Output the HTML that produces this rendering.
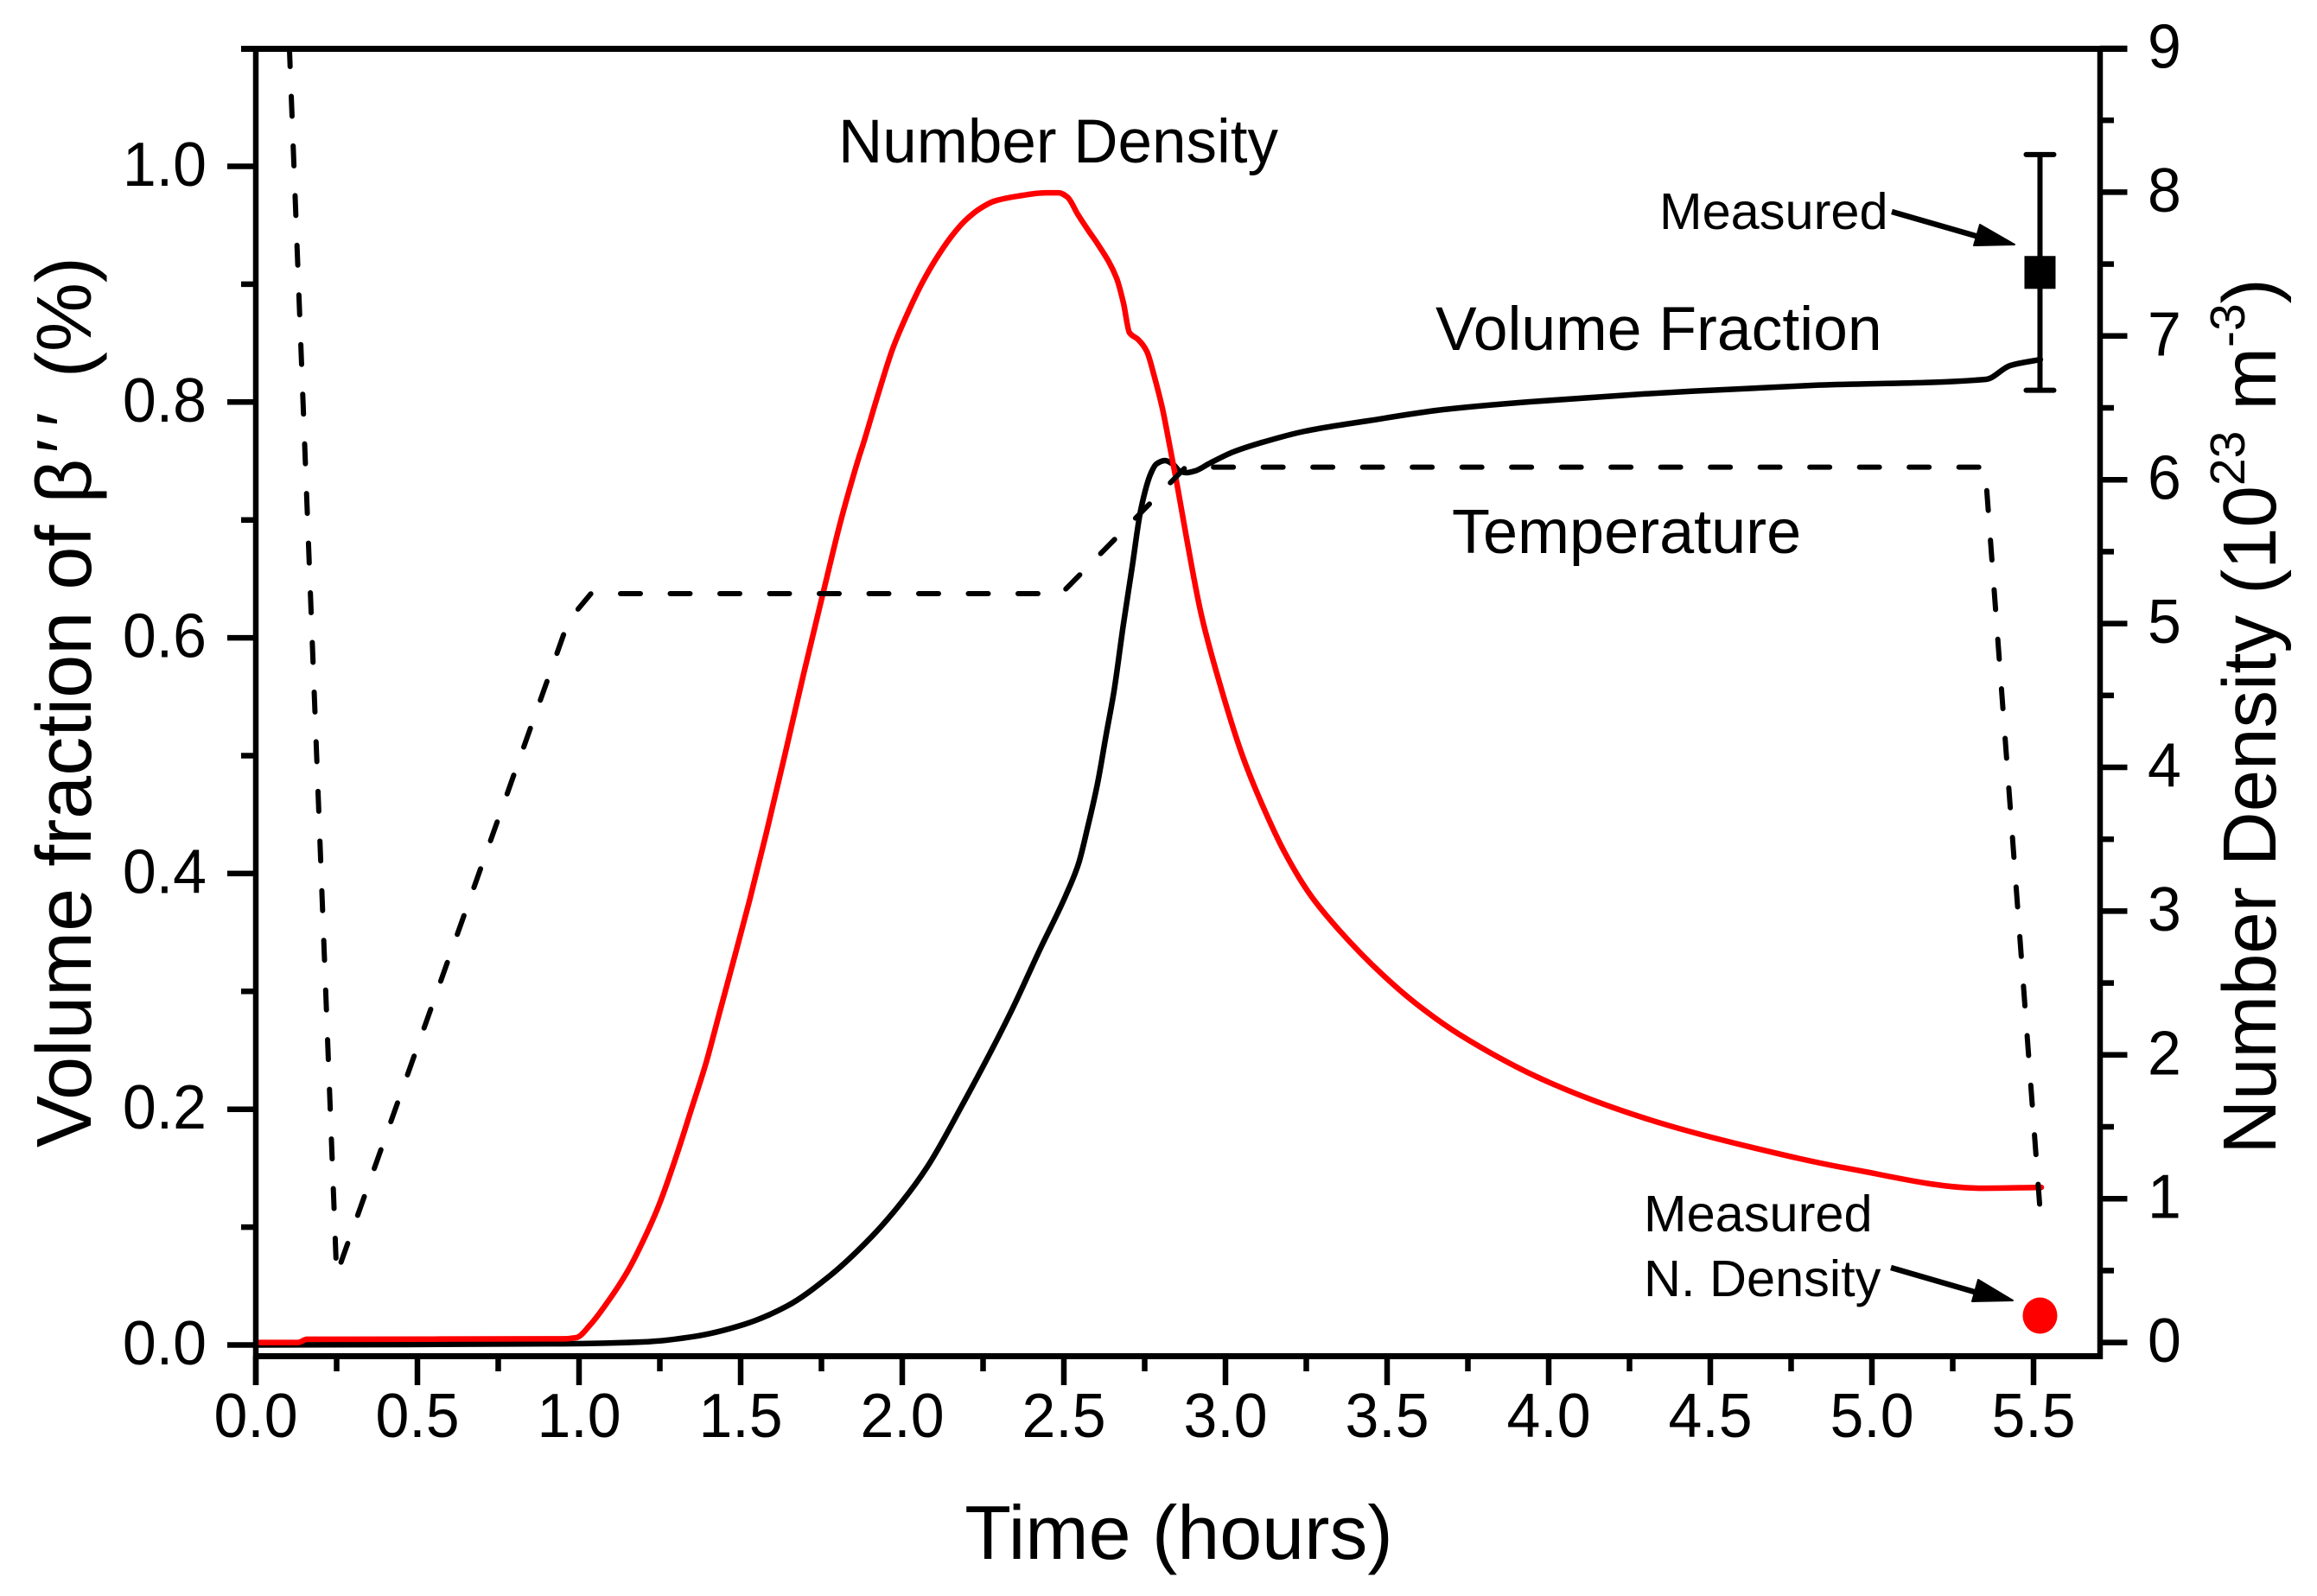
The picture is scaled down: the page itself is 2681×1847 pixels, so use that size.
<!DOCTYPE html>
<html lang="en">
<head>
<meta charset="utf-8">
<title>Volume fraction and number density versus time</title>
<style>
html,body{margin:0;padding:0;background:#fff;}
svg{display:block;}
text{font-family:"Liberation Sans",Arial,sans-serif;fill:#000;}
</style>
</head>
<body>
<svg id="chart" xmlns="http://www.w3.org/2000/svg" width="2681" height="1847" viewBox="0 0 2681 1847">
  <rect x="0" y="0" width="2681" height="1847" fill="#fff"/>
  <g id="ticks"></g>
  <g id="tick-labels"></g>
  <g id="series"></g>
  <g id="frame"></g>

  <text x="1364" y="1804" font-size="88" text-anchor="middle">Time (hours)</text>
  <text transform="translate(105,1328) rotate(-90)" font-size="90">Volume fraction of β<tspan dx="6">′</tspan><tspan dx="14">′</tspan><tspan dx="40">(%)</tspan></text>
  <text transform="translate(2633,829) rotate(-90)" font-size="87" text-anchor="middle">Number Density (10<tspan font-size="57" dy="-36">23</tspan><tspan dy="36"> m</tspan><tspan font-size="57" dy="-36">-3</tspan><tspan dy="36">)</tspan></text>

  <text x="970" y="188" font-size="71">Number Density</text>
  <text x="1661" y="405" font-size="71.5">Volume Fraction</text>
  <text x="1680" y="640" font-size="72">Temperature</text>
  <text x="1920" y="265" font-size="59.5">Measured</text>
  <text x="1902" y="1425" font-size="59.5">Measured</text>
  <text x="1902" y="1500" font-size="59.5">N. Density</text>

  <g>
    <line x1="2189" y1="245" x2="2300" y2="277" stroke="#000" stroke-width="6.5"/>
    <polygon points="2331,283 2291,260 2284,284" fill="#000" stroke="#000" stroke-width="2" stroke-linejoin="round"/>
  </g>
  <g>
    <line x1="2188" y1="1467" x2="2298" y2="1499" stroke="#000" stroke-width="6.5"/>
    <polygon points="2329,1505 2289,1481 2282,1506" fill="#000" stroke="#000" stroke-width="2" stroke-linejoin="round"/>
  </g>
</svg>
<script>
// ---- chart data (hours, percent, 10^23 m^-3) ----
const xMajorTicks = ["0.0","0.5","1.0","1.5","2.0","2.5","3.0","3.5","4.0","4.5","5.0","5.5"];
const xMinorTicks = [0.25,0.75,1.25,1.75,2.25,2.75,3.25,3.75,4.25,4.75,5.25];
const leftMajorTicks = ["0.0","0.2","0.4","0.6","0.8","1.0"];
const leftMinorTicks = [0.1,0.3,0.5,0.7,0.9];
const rightMajorTicks = ["0","1","2","3","4","5","6","7","8","9"];
const rightMinorTicks = [0.5,1.5,2.5,3.5,4.5,5.5,6.5,7.5,8.5];

const volumeTime = [0,0.947,1.214,1.356,1.508,1.642,1.775,1.904,1.997,2.078,2.184,2.337,2.425,2.505,2.545,2.572,2.604,2.631,2.655,2.684,2.711,2.738,2.770,2.786,2.813,2.837,2.858,2.880,2.906,2.952,3.024,3.104,3.246,3.441,3.674,3.941,4.289,4.821,5.353,5.428,5.521];
const volumeFraction = [0,0.001,0.0028,0.0072,0.0172,0.0328,0.0585,0.0915,0.1208,0.1514,0.2027,0.283,0.335,0.3809,0.408,0.4373,0.4762,0.518,0.5546,0.611,0.6595,0.7086,0.7401,0.7474,0.7504,0.7474,0.7416,0.7401,0.7416,0.7482,0.7577,0.765,0.7753,0.7841,0.7936,0.8002,0.8068,0.8142,0.8193,0.831,0.8361];

const densityTime = [0,0.131,0.158,0.947,0.992,1.035,1.088,1.152,1.206,1.249,1.302,1.348,1.393,1.436,1.481,1.527,1.578,1.636,1.695,1.757,1.807,1.861,1.882,1.928,1.971,2.016,2.061,2.104,2.150,2.195,2.238,2.283,2.356,2.444,2.484,2.511,2.543,2.578,2.604,2.663,2.684,2.703,2.730,2.757,2.778,2.805,2.826,2.850,2.880,2.925,2.987,3.051,3.112,3.184,3.265,3.353,3.487,3.586,3.722,4.008,4.337,4.623,4.922,5.342,5.524];
const numberDensity = [0,0,0.022,0.025,0.034,0.124,0.28,0.502,0.743,0.965,1.302,1.626,1.945,2.305,2.68,3.07,3.53,4.08,4.65,5.23,5.69,6.12,6.27,6.614,6.915,7.155,7.366,7.534,7.686,7.803,7.882,7.936,7.972,7.996,7.996,7.966,7.846,7.726,7.642,7.402,7.233,7.023,6.975,6.891,6.734,6.494,6.254,5.97,5.59,5.063,4.547,4.09,3.748,3.405,3.105,2.864,2.556,2.363,2.145,1.802,1.532,1.36,1.212,1.073,1.079];

const temperatureTime = [0.104,0.25,0.968,1.037,2.492,2.877,5.35,5.524];
const temperatureScaled = [9.0,0.472,5.022,5.208,5.208,6.088,6.088,0.803];

const measuredTime = [5.52];
const measuredVolume = [0.91];
const measuredVolumeError = [0.1];
const measuredDensity = [0.187];

// ---- axis functions ----
function xScale(t){return 296+374*t;}
function yLeft(v){return 1556.5-1364*v;}
function yRight(v){return 1553.6-166.4*v;}

const NS="http://www.w3.org/2000/svg";
function make(parent,tag,attrs){
  const n=document.createElementNS(NS,tag);
  for(const k in attrs){n.setAttribute(k,attrs[k]);}
  parent.appendChild(n);
  return n;
}
function pathFrom(xs,ys,xf,yf){
  return xs.map(function(x,i){return (i?"L":"M")+xf(x).toFixed(1)+" "+yf(ys[i]).toFixed(1);}).join(" ");
}
// monotone cubic path through the data points
function smoothPath(xs,ys,xf,yf){
  const px=xs.map(xf), py=ys.map(yf), n=px.length;
  const s=[], m=[];
  for(let i=0;i<n-1;i++){s.push((py[i+1]-py[i])/(px[i+1]-px[i]));}
  m.push(s[0]);
  for(let i=1;i<n-1;i++){
    if(s[i-1]*s[i]<=0){m.push(0);}
    else{
      const h0=px[i]-px[i-1], h1=px[i+1]-px[i];
      m.push(3*(h0+h1)/((2*h1+h0)/s[i-1]+(h1+2*h0)/s[i]));
    }
  }
  m.push(s[n-2]);
  let d="M"+px[0].toFixed(1)+" "+py[0].toFixed(1);
  for(let i=0;i<n-1;i++){
    const h=(px[i+1]-px[i])/3;
    d+=" C"+(px[i]+h).toFixed(1)+" "+(py[i]+m[i]*h).toFixed(1)+" "+(px[i+1]-h).toFixed(1)+" "+(py[i+1]-m[i+1]*h).toFixed(1)+" "+px[i+1].toFixed(1)+" "+py[i+1].toFixed(1);
  }
  return d;
}

const ticks=document.getElementById("ticks");
const labels=document.getElementById("tick-labels");
const series=document.getElementById("series");
const frame=document.getElementById("frame");
const TW=6.5;

function tick(x1,y1,x2,y2){
  const t=make(ticks,"line",{x1:x1,y1:y1,x2:x2,y2:y2,stroke:"#000","stroke-width":TW});
  
  
}
function label(text,x,y,anchor){
  const t=make(labels,"text",{transform:"translate("+x+","+y+") scale(0.97,1)","font-size":72,"text-anchor":anchor});
  t.textContent=text;
  
  
}

xMajorTicks.forEach(function(s){
  const v=parseFloat(s);
  tick(xScale(v),1569,xScale(v),1603);
  label(s,xScale(v),1663,"middle");
});
xMinorTicks.forEach(function(v){tick(xScale(v),1569,xScale(v),1587);});

leftMajorTicks.forEach(function(s){
  const v=parseFloat(s);
  tick(263,yLeft(v),296,yLeft(v));
  label(s,239,yLeft(v)+22.5,"end");
});
leftMinorTicks.forEach(function(v){tick(279,yLeft(v),296,yLeft(v));});

rightMajorTicks.forEach(function(s){
  const v=parseFloat(s);
  tick(2430,yRight(v),2461.5,yRight(v));
  label(s,2485,yRight(v)+22.5,"start");
});
rightMinorTicks.forEach(function(v){tick(2430,yRight(v),2446,yRight(v));});

// frame
const leftSpine=make(frame,"line",{x1:296,y1:56,x2:296,y2:1603,stroke:"#000","stroke-width":TW});


const rightSpine=make(frame,"line",{x1:2430,y1:56,x2:2430,y2:1573,stroke:"#000","stroke-width":TW});


const topSpine=make(frame,"line",{x1:279,y1:56.5,x2:2461.5,y2:56.5,stroke:"#000","stroke-width":7});


const bottomSpine=make(frame,"line",{x1:293,y1:1569.5,x2:2433,y2:1569.5,stroke:"#000","stroke-width":7});



// series
const volumeLine=make(series,"path",{d:smoothPath(volumeTime,volumeFraction,xScale,yLeft),fill:"none",stroke:"#000","stroke-width":6.5,"stroke-linejoin":"round","stroke-linecap":"round"});



const densityLine=make(series,"path",{d:smoothPath(densityTime,numberDensity,xScale,yRight),fill:"none",stroke:"#ff0000","stroke-width":6.5,"stroke-linejoin":"round","stroke-linecap":"round"});



const tempLine=make(series,"path",{d:pathFrom(temperatureTime,temperatureScaled,xScale,yRight),fill:"none",stroke:"#000","stroke-width":6,"stroke-linejoin":"round","stroke-linecap":"round","stroke-dasharray":"23 34.5","stroke-dashoffset":2});



// measured points
measuredTime.forEach(function(t,i){
  const cx=xScale(t);
  const top=yLeft(measuredVolume[i]+measuredVolumeError[i]);
  const bot=yLeft(measuredVolume[i]-measuredVolumeError[i]);
  const stem=make(series,"line",{x1:cx,y1:top,x2:cx,y2:bot,stroke:"#000","stroke-width":6});
  
  
  const capTop=make(series,"line",{x1:cx-16,y1:top,x2:cx+16,y2:top,stroke:"#000","stroke-width":6,"stroke-linecap":"round"});
  
  
  const capBot=make(series,"line",{x1:cx-16,y1:bot,x2:cx+16,y2:bot,stroke:"#000","stroke-width":6,"stroke-linecap":"round"});
  
  
  const sq=make(series,"rect",{x:cx-18,y:yLeft(measuredVolume[i])-19,width:36,height:38,fill:"#000"});
  
  
  const dot=make(series,"ellipse",{cx:cx,cy:yRight(measuredDensity[i]),rx:20,ry:21,fill:"#ff0000"});
  
  
});
</script>
</body>
</html>
